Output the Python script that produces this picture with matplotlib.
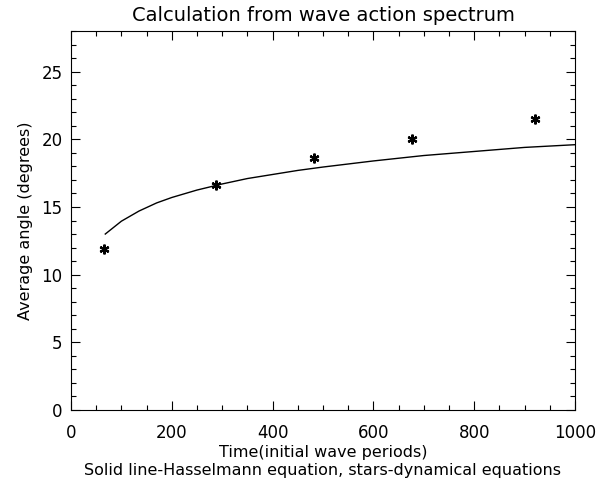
import matplotlib

matplotlib.use("Agg")

import matplotlib.pyplot as plt
from matplotlib.ticker import MultipleLocator


# Hasselmann equation (solid line)
hass_time = [68, 100, 135, 170, 200, 250, 300, 350, 400, 450, 500,
             600, 700, 800, 900, 1000]
hass_angle = [13.0, 13.95, 14.7, 15.3, 15.7, 16.25, 16.7, 17.1, 17.4,
              17.7, 17.95, 18.4, 18.8, 19.1, 19.4, 19.6]

# dynamical equations (stars)
dyn_time = [65, 288, 482, 676, 921]
dyn_angle = [11.9, 16.6, 18.65, 20.05, 21.5]

TITLE = "Calculation from wave action spectrum"
XLABEL = "Time(initial wave periods)"
YLABEL = "Average angle (degrees)"
NOTE = "Solid line-Hasselmann equation, stars-dynamical equations"

plt.rcParams["font.family"] = ["DejaVu Sans"]

fig = plt.figure(figsize=(6.0, 4.91), dpi=100)
ax = fig.add_axes([71 / 600, 1 - 410 / 491, 504 / 600, 379 / 491])

ax.plot(hass_time, hass_angle, color="black", linewidth=1.0)
ax.plot(
    dyn_time,
    dyn_angle,
    linestyle="none",
    marker=(6, 2, 0),
    markersize=7,
    markeredgewidth=1.6,
    color="black",
)

ax.set_xlim(0, 1000)
ax.set_ylim(0, 28)
ax.xaxis.set_major_locator(MultipleLocator(200))
ax.xaxis.set_minor_locator(MultipleLocator(50))
ax.yaxis.set_major_locator(MultipleLocator(5))
ax.yaxis.set_minor_locator(MultipleLocator(1))

ax.tick_params(which="both", direction="in", top=True, right=True,
               width=0.8, labelsize=12, colors="black")
ax.tick_params(which="major", length=6.5)
ax.tick_params(axis="x", which="major", pad=10)
ax.tick_params(axis="y", which="major", pad=6)
ax.tick_params(which="minor", length=3.3)
for side in ax.spines.values():
    side.set_linewidth(0.8)

ax.set_title(TITLE, fontsize=14, pad=7)
ax.set_xlabel(XLABEL, fontsize=11.5, labelpad=2)
ax.set_ylabel(YLABEL, fontsize=11.5, labelpad=6)
fig.text(0.5 * (71 + 575) / 600, 1 - 470 / 491, NOTE, fontsize=11.5,
         ha="center", va="center")

fig.savefig("out.png", dpi=100)
